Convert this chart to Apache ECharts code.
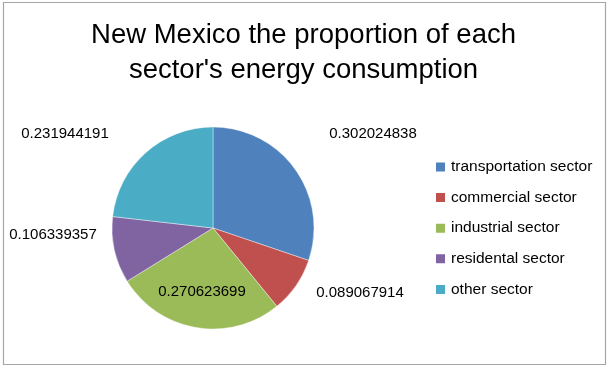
<!DOCTYPE html>
<html>
<head>
<meta charset="utf-8">
<script src="https://cdn.jsdelivr.net/npm/echarts@6/dist/echarts.min.js"></script>
<style>
  html, body { margin: 0; padding: 0; background: #fff; }
  #chart { width: 607px; height: 368px; }
</style>
</head>
<body>
<div id="chart"></div>
<script>
// Sector names and their share of New Mexico's energy consumption
const sectors = ['transportation sector', 'commercial sector', 'industrial sector', 'residental sector', 'other sector'];
const shares = [0.302024838, 0.089067914, 0.270623699, 0.106339357, 0.231944191];
const sectorColors = ['#4F81BD', '#C0504D', '#9BBB59', '#8064A2', '#4BACC6'];

// Where each value label sits (label centre, in pixels)
const labelSpots = [[373, 134], [360, 293], [202, 292], [53, 235], [65, 134]];

const chart = echarts.init(document.getElementById('chart'), null, { renderer: 'canvas' });

chart.setOption({
  animation: false,
  backgroundColor: '#ffffff',
  color: sectorColors,
  title: {
    text: "New Mexico the proportion of each\nsector's energy consumption",
    left: 'center',
    top: 13,
    textStyle: {
      fontFamily: 'Liberation Sans, Arial, sans-serif',
      fontSize: 27.5,
      fontWeight: 'normal',
      color: '#000',
      lineHeight: 35
    }
  },
  legend: {
    orient: 'vertical',
    left: 429,
    top: 154,
    itemWidth: 11,
    itemHeight: 11,
    itemGap: 14.6,
    itemTextGap: 4,
    icon: 'rect',
    data: sectors,
    textStyle: {
      fontFamily: 'Liberation Sans, Arial, sans-serif',
      fontSize: 15.5,
      color: '#000'
    }
  },
  graphic: [{
    type: 'rect',
    shape: { x: 3.5, y: 2.5, width: 602, height: 362 },
    style: { fill: 'none', stroke: '#a6a6a6', lineWidth: 1.2 },
    silent: true,
    z: -1
  }],
  series: [{
    type: 'pie',
    center: [213, 228],
    radius: [0, 101],
    startAngle: 90,
    clockwise: true,
    silent: true,
    itemStyle: { borderColor: '#ffffff', borderWidth: 0.4 },
    label: {
      show: true,
      position: 'outside',
      overflow: 'none',
      formatter: p => String(shares[p.dataIndex]),
      fontFamily: 'Liberation Sans, Arial, sans-serif',
      fontSize: 15,
      color: '#000'
    },
    labelLine: { show: false },
    labelLayout: params => {
      const spot = labelSpots[params.dataIndex];
      return { x: spot[0], y: spot[1], align: 'center', verticalAlign: 'middle' };
    },
    data: sectors.map((name, i) => ({ name, value: shares[i] }))
  }]
});
</script>
</body>
</html>
